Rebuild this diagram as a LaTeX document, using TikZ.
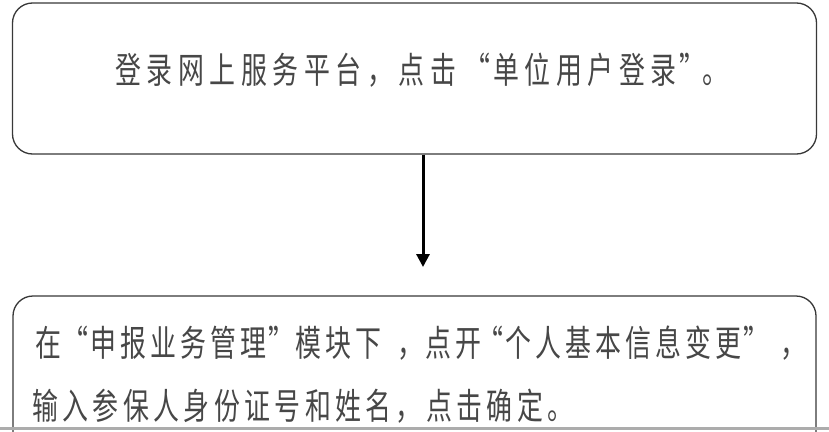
\documentclass[tikz,border=0pt]{standalone}
\usepackage{fontspec}
\newfontfamily\cjk[FakeStretch=0.72]{Noto Sans CJK SC}
\usetikzlibrary{arrows.meta}
\newlength\pitch
\def\runA#1{\ifx#1\relax\else\makebox[\pitch]{#1}\expandafter\runA\fi}
\newcommand\run[1]{\runA#1\relax}
\tikzset{
  box/.style={draw=black!78, line width=1.3pt, rounded corners=20pt, inner sep=0pt, fill=white},
  txt/.style={inner sep=0pt, anchor=west, text=black!72, font=\cjk\fontsize{36}{40}\selectfont},
  flow/.style={draw=black, line width=3pt, -{Triangle[width=13pt,length=13pt]}},
  pageline/.style={draw=gray!65, line width=2.5pt}
}
\begin{document}
\begin{tikzpicture}[x=1pt,y=-1pt]
\clip (0,0) rectangle (829,431);
\fill[white] (0,0) rectangle (829,431);
% boxes
\node[box, minimum width=804pt, minimum height=151pt] (b1) at (414.5,78.5) {};
\node[box, minimum width=803pt, minimum height=180pt] (b2) at (414.5,386) {};
% texts
\node[txt] (t1) at (112.25,70) {\setlength\pitch{31.5pt}\run{登录网上服务平台，点击}\makebox[\pitch][r]{“}\run{单位用户登录}\makebox[24pt][l]{”}\makebox[24pt]{。}};
\node[txt] (t2) at (33,343.5) {\setlength\pitch{30pt}\run{在}\makebox[25pt][r]{“}\run{申报业务管理}\makebox[25pt][l]{”}\run{模块下}\makebox[40pt][r]{，}\run{点开}\makebox[20pt][r]{“}\run{个人基本信息变更}\makebox[25pt][l]{”}\makebox[38pt][r]{，}};
\node[txt] (t3) at (30,406) {\setlength\pitch{30.3pt}\run{输入参保人身份证号和姓名，点击确定。}};
% connector
\coordinate (tip) at (423,267);
\draw[flow] (b1.south -| tip) -- (tip);
% page edge
\draw[pageline] (0,428.5) -- (829,428.5);
\end{tikzpicture}
\end{document}
